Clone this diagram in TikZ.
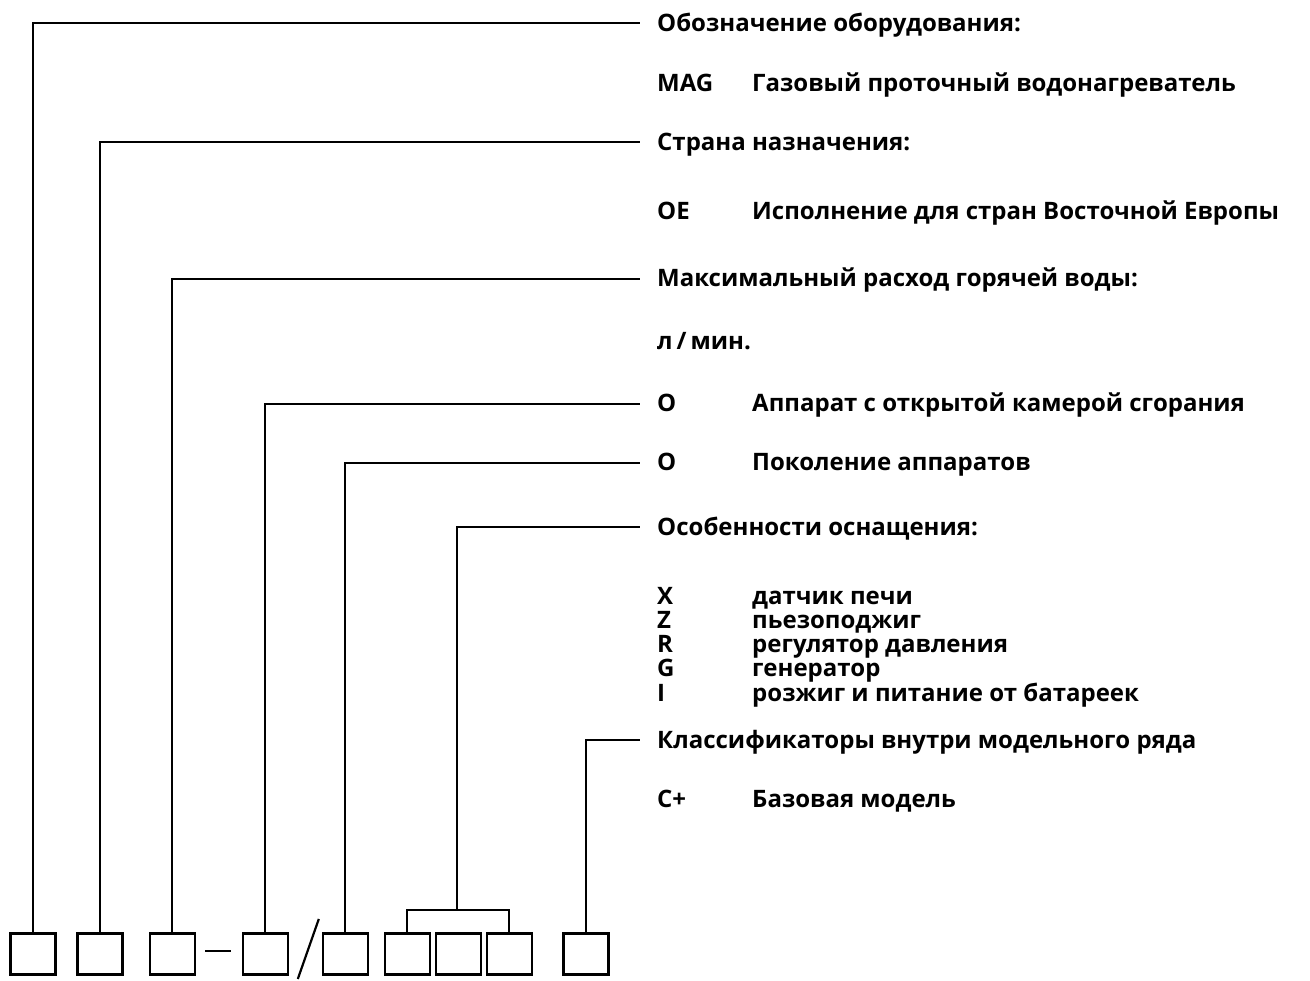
\documentclass[tikz,border=0pt]{standalone}
\usepackage{fontspec}
\setmainfont{Open Sans}
\begin{document}
\begin{tikzpicture}[x=1pt,y=-1pt,
  cell/.style={draw=black,line width=2.6pt,minimum width=45pt,minimum height=41pt,inner sep=0pt,anchor=north west},
  lead/.style={draw=black,line width=2.2pt},
  txt/.style={anchor=base west,inner sep=0pt,font=\fontsize{24}{28}\selectfont\bfseries}]
\useasboundingbox (0,0) rectangle (1310,981);
% boxes
\node[cell] (b1) at (9,932) {};
\node[cell] (b2) at (76,932) {};
\node[cell] (b3) at (148.5,932) {};
\node[cell] (b4) at (241.5,932) {};
\node[cell] (b5) at (321.5,932) {};
\node[cell] (b6) at (383.5,932) {};
\node[cell] (b7) at (434.5,932) {};
\node[cell] (b8) at (485.5,932) {};
\node[cell] (b9) at (562,932) {};
% dash and slash
\coordinate (d1) at (205,951);
\coordinate (d2) at (230.5,951);
\draw[lead,line width=2.6pt] (d1) -- (d2);
\coordinate (s1) at (318.8,919);
\coordinate (s2) at (297.8,979);
\draw[lead] (s1) -- (s2);
% leader ends
\coordinate (e1) at (640,22.7);
\coordinate (e2) at (640,142.3);
\coordinate (e3) at (640,279);
\coordinate (e4) at (640,404);
\coordinate (e5) at (640,463);
\coordinate (e6) at (640,527);
\coordinate (e7) at (640,740);
\coordinate (bm) at (457,910);
\draw[lead] (b1.north) |- (e1);
\draw[lead] (b2.north) |- (e2);
\draw[lead] (b3.north) |- (e3);
\draw[lead] (b4.north) |- (e4);
\draw[lead] (b5.north) |- (e5);
\draw[lead] (b6.north) |- (bm) -| (b8.north);
\draw[lead] (bm) |- (e6);
\draw[lead] (b9.north) |- (e7);
% texts
\node[txt] (t1) at (657,32) {Обозначение оборудования:};
\node[txt] (t2a) at (657,92) {MAG};
\node[txt] (t2b) at (752,92) {Газовый проточный водонагреватель};
\node[txt] (t3) at (657,151) {Страна назначения:};
\node[txt] (t4a) at (657,220) {OE};
\node[txt] (t4b) at (752,220) {Исполнение для стран Восточной Европы};
\node[txt] (t5) at (657,287) {Максимальный расход горячей воды:};
\node[txt] (t6) at (657,350) {л\,/\,мин.};
\node[txt] (t7a) at (657,412) {O};
\node[txt] (t7b) at (752,412) {Аппарат с открытой камерой сгорания};
\node[txt] (t8a) at (657,471) {O};
\node[txt] (t8b) at (752,471) {Поколение аппаратов};
\node[txt] (t9) at (657,535) {Особенности оснащения:};
\node[txt] (x1a) at (657,604) {X};
\node[txt] (x1b) at (752,604) {датчик печи};
\node[txt] (x2a) at (657,628) {Z};
\node[txt] (x2b) at (752,628) {пьезоподжиг};
\node[txt] (x3a) at (657,652) {R};
\node[txt] (x3b) at (752,652) {регулятор давления};
\node[txt] (x4a) at (657,676) {G};
\node[txt] (x4b) at (752,676) {генератор};
\node[txt] (x5a) at (657,701) {I};
\node[txt] (x5b) at (752,701) {розжиг и питание от батареек};
\node[txt] (t10) at (657,748) {Классификаторы внутри модельного ряда};
\node[txt] (t11a) at (657,807) {C+};
\node[txt] (t11b) at (752,807) {Базовая модель};
\end{tikzpicture}
\end{document}
